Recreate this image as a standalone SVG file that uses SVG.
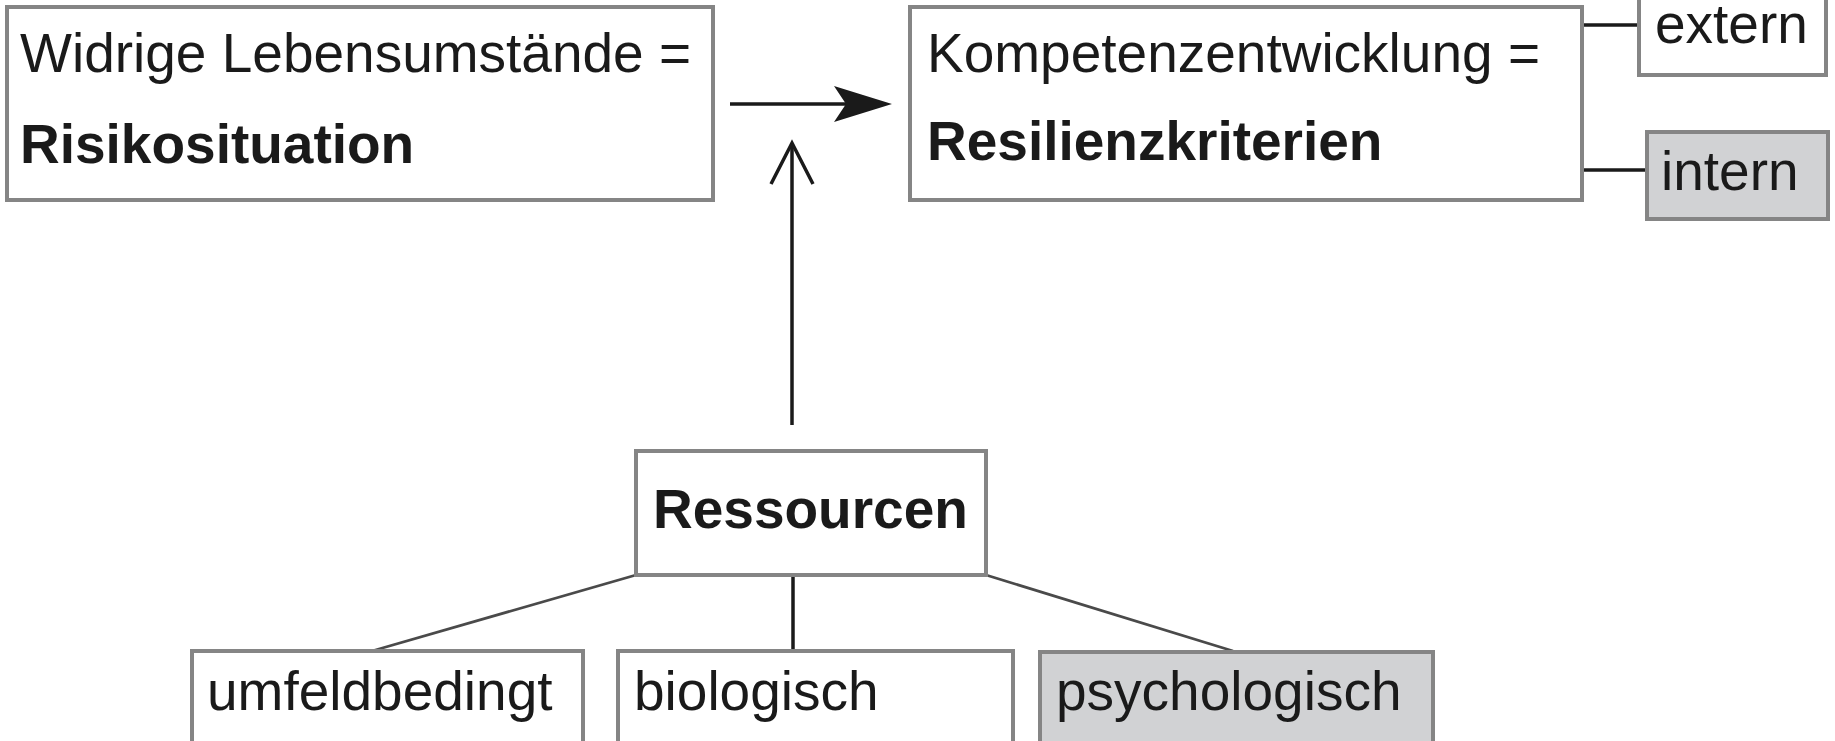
<svg xmlns="http://www.w3.org/2000/svg" width="1835" height="741" viewBox="0 0 1835 741">
<style>
.box{fill:#ffffff;stroke:#858585;stroke-width:4}
.grey{fill:#d1d2d4;stroke:#858585;stroke-width:4}
.t{font-family:"Liberation Sans",Arial,sans-serif;font-size:55px;fill:#1a1a1a}
.b{font-weight:bold}
.ln{stroke:#1a1a1a;stroke-width:3.5;fill:none}
.dg{stroke:#4a4a4a;stroke-width:2.8;fill:none}
</style>
<rect width="1835" height="741" fill="#ffffff"/>
<g id="connectors">
<line class="ln" x1="730" y1="104" x2="850" y2="104"/>
<path d="M892,104 L834,86 L846,104 L834,122 Z" fill="#1a1a1a"/>
<line class="ln" x1="792" y1="144" x2="792" y2="425" stroke-width="3"/>
<polyline class="ln" points="771,184 792,143 813,184" stroke-width="3"/>
<line class="ln" x1="1582" y1="25" x2="1639" y2="25"/>
<line class="ln" x1="1582" y1="170" x2="1647" y2="170"/>
<line class="ln" x1="793" y1="575" x2="793" y2="651" stroke-width="3"/>
<line class="dg" x1="636" y1="575" x2="372" y2="651"/>
<line class="dg" x1="986" y1="575" x2="1233" y2="651"/>
</g>
<g id="risiko">
<rect class="box" x="7" y="7" width="706" height="193"/>
<text class="t" x="20" y="72">Widrige Lebensumstände =</text>
<text class="t b" x="20" y="163">Risikosituation</text>
</g>
<g id="kompetenz">
<rect class="box" x="910" y="7" width="672" height="193"/>
<text class="t" x="927" y="72">Kompetenzentwicklung =</text>
<text class="t b" x="927" y="160">Resilienzkriterien</text>
</g>
<g id="extern">
<rect class="box" x="1639" y="-10" width="187" height="85"/>
<text class="t" x="1655" y="43">extern</text>
</g>
<g id="intern">
<rect class="grey" x="1647" y="132" width="181" height="87"/>
<text class="t" x="1661" y="190">intern</text>
</g>
<g id="ressourcen">
<rect class="box" x="636" y="451" width="350" height="124"/>
<text class="t b" x="653" y="528" font-size="50">Ressourcen</text>
</g>
<g id="umfeldbedingt">
<rect class="box" x="192" y="651" width="391" height="110"/>
<text class="t" x="207" y="710">umfeldbedingt</text>
</g>
<g id="biologisch">
<rect class="box" x="618" y="651" width="395" height="110"/>
<text class="t" x="634" y="710">biologisch</text>
</g>
<g id="psychologisch">
<rect class="grey" x="1040" y="652" width="393" height="110"/>
<text class="t" x="1056" y="710">psychologisch</text>
</g>
</svg>
